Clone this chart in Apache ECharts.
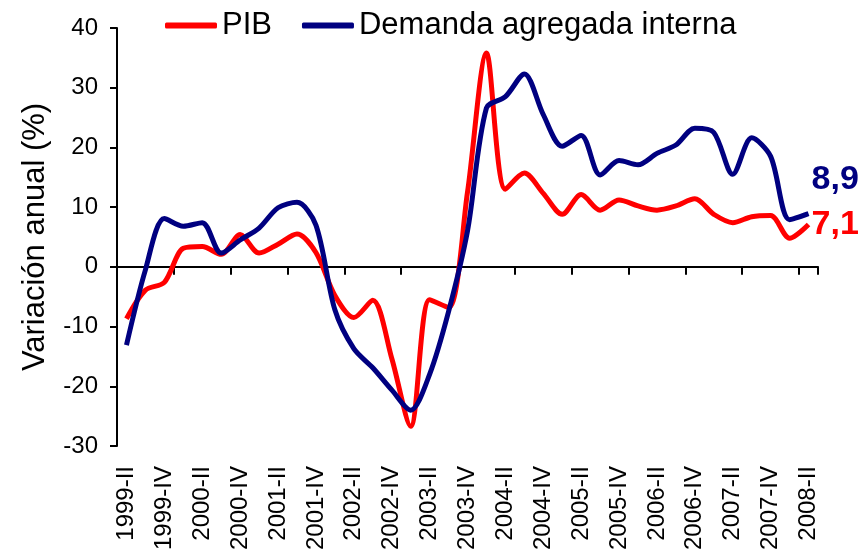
<!DOCTYPE html>
<html>
<head>
<meta charset="utf-8">
<script src="https://cdn.jsdelivr.net/npm/echarts@6/dist/echarts.min.js"></script>
<style>
    html, body { margin: 0; padding: 0; background: #fff; }
    #chart { width: 864px; height: 555px; }
</style>
</head>
<body>
<div id="chart"></div>
<script>
const FONT = 'Liberation Sans, Arial, sans-serif';

const quarters = [
    '1999-II', '1999-III', '1999-IV',
    '2000-I', '2000-II', '2000-III', '2000-IV',
    '2001-I', '2001-II', '2001-III', '2001-IV',
    '2002-I', '2002-II', '2002-III', '2002-IV',
    '2003-I', '2003-II', '2003-III', '2003-IV',
    '2004-I', '2004-II', '2004-III', '2004-IV',
    '2005-I', '2005-II', '2005-III', '2005-IV',
    '2006-I', '2006-II', '2006-III', '2006-IV',
    '2007-I', '2007-II', '2007-III', '2007-IV',
    '2008-I', '2008-II'
];

// PIB, variación anual (%)
const pib = [
    -8.7, -3.9, -2.6,
    3.1, 3.4, 2.1, 5.4,
    2.3, 3.8, 5.5, 2.4,
    -4.8, -8.5, -5.6, -15.3,
    -26.7, -5.5, -6.8, 12.5,
    35.8, 13.0, 15.7, 12.3,
    8.8, 12.1, 9.5, 11.2,
    10.2, 9.5, 10.2, 11.4,
    8.8, 7.4, 8.4, 8.6,
    4.8, 7.1
];

// Demanda agregada interna, variación anual (%)
const demanda = [
    -13.1, -0.5, 8.1,
    6.8, 7.4, 2.3, 4.5,
    6.5, 9.9, 10.8, 7.0,
    -7.2, -13.7, -16.9, -20.6,
    -24.0, -18.0, -7.5, 6.0,
    26.6, 28.5, 32.3, 25.5,
    20.2, 22.0, 15.4, 17.8,
    17.1, 19.0, 20.4, 23.2,
    22.5, 15.5, 21.6, 18.5,
    7.9, 8.9
];

const RED = '#ff0000';
const NAVY = '#000080';

function endLabel(color, offset) {
    return {
        show: true,
        distance: 3,
        offset: offset,
        formatter: function(p) {
            return String(p.value).replace('.', ',');
        },
        color: color,
        fontFamily: FONT,
        fontSize: 34,
        fontWeight: 'bold'
    };
}

const chart = echarts.init(document.getElementById('chart'));

const option = {
    backgroundColor: '#ffffff',
    animation: false,
    textStyle: { fontFamily: FONT, color: '#000' },
    legend: {
        left: 160,
        top: 5,
        icon: 'roundRect',
        itemWidth: 52,
        itemHeight: 6,
        itemGap: 30,
        textStyle: { fontFamily: FONT, fontSize: 31, color: '#000' },
        data: ['PIB', 'Demanda agregada interna']
    },
    grid: {
        left: 117,
        right: 46,
        top: 28,
        bottom: 109
    },
    xAxis: [
        {
            type: 'category',
            data: quarters,
            boundaryGap: true,
            axisLine: { onZero: true, lineStyle: { color: '#000', width: 2 } },
            axisTick: { show: true, length: 8, lineStyle: { color: '#000', width: 2 } },
            axisLabel: { show: false },
            splitLine: { show: false }
        },
        {
            type: 'category',
            data: quarters,
            position: 'bottom',
            boundaryGap: true,
            axisLine: { show: false },
            axisTick: { show: false },
            axisLabel: {
                interval: 1,
                rotate: 90,
                margin: 20,
                fontFamily: FONT,
                fontSize: 24,
                color: '#000'
            },
            splitLine: { show: false }
        }
    ],
    yAxis: {
        type: 'value',
        min: -30,
        max: 40,
        interval: 10,
        name: 'Variación anual (%)',
        nameLocation: 'middle',
        nameGap: 66,
        nameTextStyle: { fontFamily: FONT, fontSize: 31, color: '#000' },
        axisLine: { show: true, lineStyle: { color: '#000', width: 2 } },
        axisTick: { show: true, length: 7, lineStyle: { color: '#000', width: 2 } },
        axisLabel: { margin: 19, fontFamily: FONT, fontSize: 24, color: '#000' },
        splitLine: { show: false }
    },
    series: [
        {
            name: 'PIB',
            type: 'line',
            xAxisIndex: 0,
            data: pib,
            smooth: 0.3,
            symbol: 'none',
            lineStyle: { color: RED, width: 5 },
            itemStyle: { color: RED },
            endLabel: endLabel(RED, [0, 0])
        },
        {
            name: 'Demanda agregada interna',
            type: 'line',
            xAxisIndex: 0,
            data: demanda,
            smooth: 0.3,
            symbol: 'none',
            lineStyle: { color: NAVY, width: 5 },
            itemStyle: { color: NAVY },
            endLabel: endLabel(NAVY, [0, -34])
        }
    ]
};

chart.setOption(option);
</script>
</body>
</html>
